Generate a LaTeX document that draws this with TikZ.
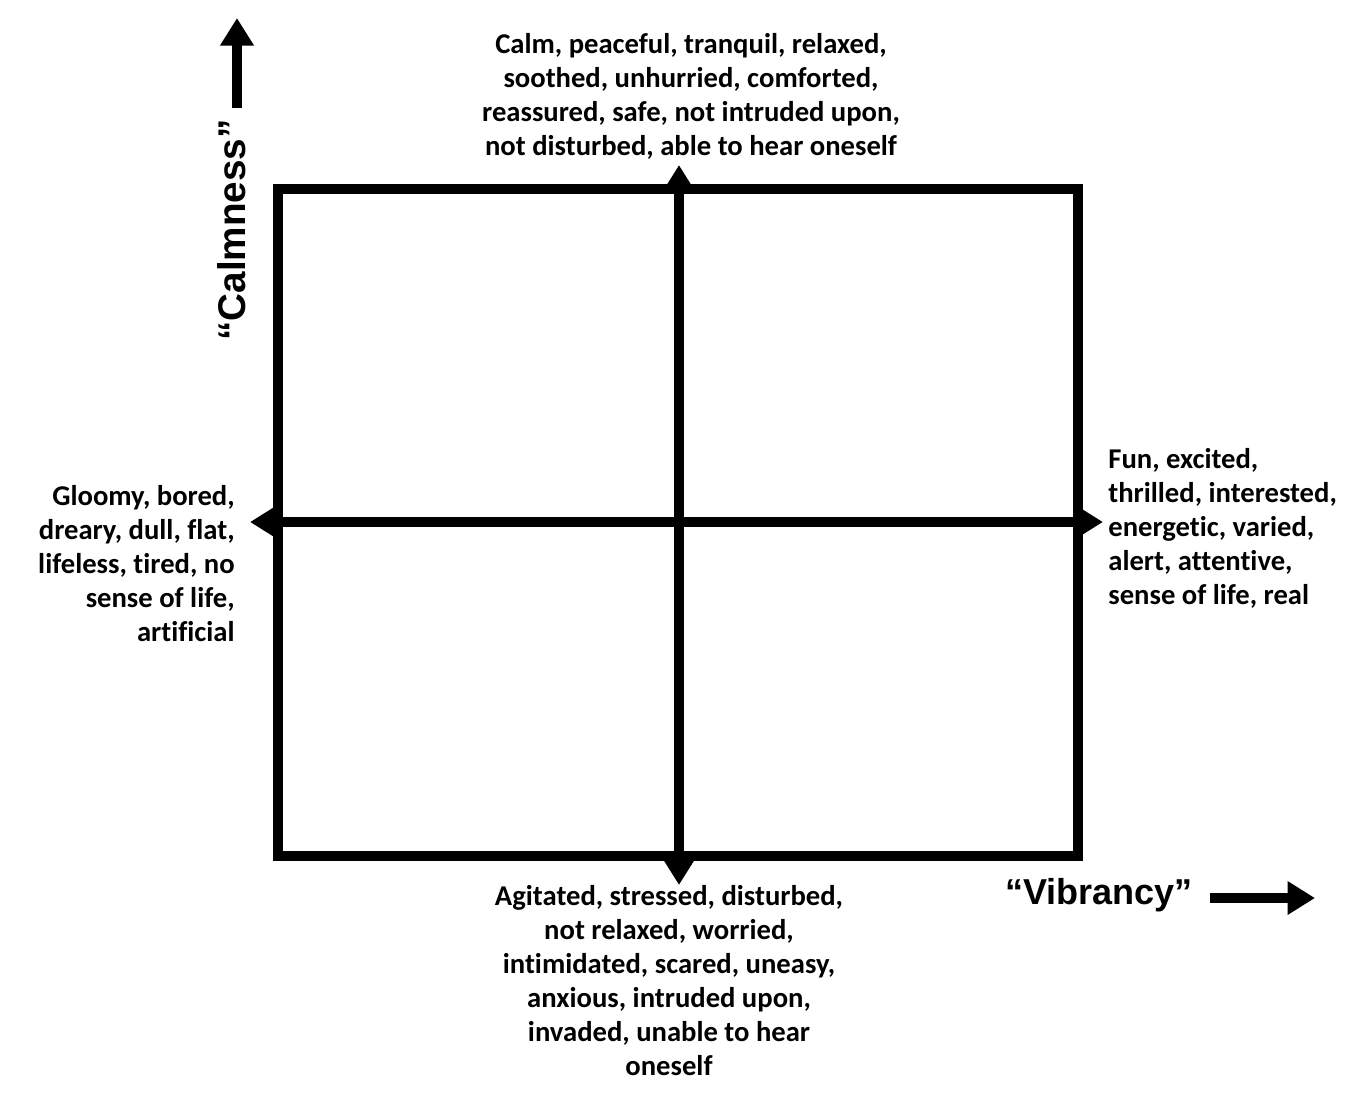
\documentclass[tikz,border=0pt]{standalone}
\usepackage{fontspec}
\setmainfont{Carlito}[Ligatures=NoCommon]
\newfontfamily\axisfont{Liberation Sans}
\usepackage{tikz}
\usetikzlibrary{arrows.meta}
\tikzstyle{feelings}=[font=\bfseries\fontsize{16.3}{19.4}\selectfont, inner sep=0pt]
\tikzstyle{dimension}=[font=\axisfont\bfseries\fontsize{20.5}{24}\selectfont, inner sep=0pt]
\tikzstyle{frame}=[draw=black, line width=0.2cm]

\begin{document}
\begin{tikzpicture}[x=0.02cm, y=-0.02cm, >={Triangle[length=0.55cm, width=0.64cm]}]
	\useasboundingbox (0,0) rectangle (1372,1093);
	\coordinate (NW) at (278,189);
	\coordinate (SE) at (1078,856);
	\coordinate (up) at (679,165);
	\coordinate (down) at (679,885);
	\coordinate (west) at (250,522);
	\coordinate (east) at (1103,522);
	\path[frame] (NW) rectangle (SE);
	\path[<->, line width=0.2cm]
		(down) edge (up)
		(west) edge (east);
	\node (calm) [feelings, align=center, anchor=north] at (691,33)
		{Calm, peaceful, tranquil, relaxed,\\ soothed, unhurried, comforted,\\ reassured, safe, not intruded upon,\\ not disturbed, able to hear oneself};
	\node (agitated) [feelings, align=center, anchor=north] at (669,885)
		{Agitated, stressed, disturbed,\\ not relaxed, worried,\\ intimidated, scared, uneasy,\\ anxious, intruded upon,\\ invaded, unable to hear\\ oneself};
	\node (gloomy) [feelings, align=right, anchor=north east] at (235,485)
		{Gloomy, bored,\\ dreary, dull, flat,\\ lifeless, tired, no\\ sense of life,\\ artificial};
	\node (fun) [feelings, align=left, anchor=north west] at (1108,448)
		{Fun, excited,\\ thrilled, interested,\\ energetic, varied,\\ alert, attentive,\\ sense of life, real};
	\node (calmness) [dimension, font=\axisfont\bfseries\fontsize{22}{25}\selectfont, rotate=90] at (232,230) {“Calmness”};
	\coordinate (calmfrom) at (237,108);
	\coordinate (calmto) at (237,18);
	\draw[->, line width=0.2cm] (calmfrom) -- (calmto);
	\node (vibrancy) [dimension] at (1099,895) {“Vibrancy”};
	\coordinate (vibfrom) at (1210,898);
	\coordinate (vibto) at (1315,898);
	\draw[->, line width=0.2cm] (vibfrom) -- (vibto);
\end{tikzpicture}
\end{document}
